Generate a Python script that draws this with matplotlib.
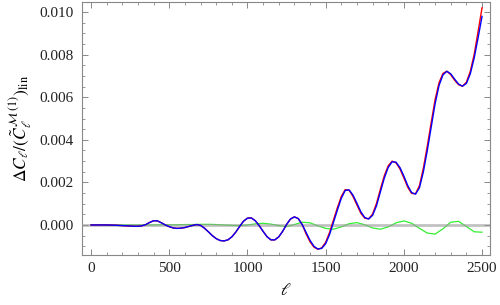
import numpy as np
import matplotlib.pyplot as plt
from matplotlib.ticker import MultipleLocator

# DATA (values in units of 1e-3)
ell = list(range(0, 2501, 25))
blue = [0, 0, 0, 0, 0, -0.005, -0.01, -0.02, -0.03, -0.04, -0.05, -0.06, -0.06, -0.04,
        0.02, 0.12, 0.20, 0.19, 0.10, 0.0, -0.08, -0.14, -0.16, -0.15, -0.12, -0.07,
        -0.02, 0.02, -0.02, -0.15, -0.32, -0.50, -0.64, -0.73, -0.75, -0.70, -0.56,
        -0.34, -0.07, 0.18, 0.32, 0.33, 0.20, -0.03, -0.30, -0.55, -0.70, -0.70, -0.56,
        -0.30, 0.02, 0.28, 0.38, 0.30, 0.02, -0.35, -0.72, -1.00, -1.13, -1.10, -0.88,
        -0.45, 0.12, 0.70, 1.25, 1.62, 1.65, 1.40, 1.02, 0.62, 0.35, 0.28, 0.45, 0.90,
        1.55, 2.20, 2.70, 2.97, 2.95, 2.70, 2.30, 1.85, 1.52, 1.45, 1.75, 2.50, 3.50,
        4.60, 5.70, 6.55, 7.05, 7.22, 7.10, 6.85, 6.62, 6.52, 6.65, 7.10, 7.85, 8.80, 9.80]
red_hi = [-0.42, -0.79, -1.04, -1.14, -1.075, -0.815, -0.35, 0.235, 0.81, 1.34, 1.66,
          1.63, 1.34, 0.94, 0.55, 0.32, 0.29, 0.51, 1.01, 1.68, 2.315, 2.78, 3.0, 2.92,
          2.635, 2.215, 1.77, 1.48, 1.47, 1.855, 2.675, 3.71, 4.82, 5.895, 6.685, 7.12,
          7.225, 7.06, 6.80, 6.59, 6.52, 6.71, 7.22, 8.02, 9.1, 10.2]
red = blue[:len(blue) - len(red_hi)] + red_hi

ell_g = list(range(0, 2501, 50))
green = [0, 0, 0, 0, 0, 0, 0, 0, 0, 0.01, 0.01, 0.01, 0.02, 0.02, 0.03, 0.03, 0.02, 0.0,
         -0.02, -0.03, 0.0, 0.05, 0.08, 0.04, -0.03, -0.08, 0.02, 0.13, 0.10, -0.04,
         -0.16, -0.20, -0.09, 0.06, 0.11, 0.01, -0.14, -0.20, -0.09, 0.10, 0.19, 0.08,
         -0.16, -0.38, -0.43, -0.18, 0.13, 0.17, -0.07, -0.32, -0.34]

plt.rcParams['mathtext.fontset'] = 'stix'
plt.rcParams['font.family'] = ['Liberation Serif', 'DejaVu Serif']

fig = plt.figure(figsize=(5, 3.05), dpi=100)
ax = fig.add_axes([0.164, 0.164, 0.816, 0.829])

ax.plot(ell_g, np.array(green) * 1e-3, color='#33ee33', lw=0.9, zorder=2)
ax.axhline(0, color='#999999', lw=2, alpha=0.6, zorder=3)
ax.plot(ell, np.array(red) * 1e-3, color='#ff0000', lw=1.0, zorder=4)
ax.plot(ell, np.array(blue) * 1e-3, color='#0000ff', lw=1.0, zorder=5)

ax.set_xlim(-58, 2551)
ax.set_ylim(-0.00141, 0.01047)
ax.xaxis.set_major_locator(MultipleLocator(500))
ax.xaxis.set_minor_locator(MultipleLocator(100))
ax.yaxis.set_major_locator(MultipleLocator(0.002))
ax.yaxis.set_minor_locator(MultipleLocator(0.0005))
ax.yaxis.set_major_formatter(plt.FuncFormatter(lambda v, p: f"{v:.3f}"))

for s in ax.spines.values():
    s.set_color('#888888')
    s.set_linewidth(0.8)
ax.tick_params(which='both', direction='in', top=True, right=True, color='#888888',
               labelsize=11, labelcolor='#222222')
ax.tick_params(axis='y', pad=6)
ax.tick_params(axis='x', pad=5)
ax.tick_params(which='major', length=4, width=0.7)
ax.tick_params(which='minor', length=2.3, width=0.6)

ax.set_xlabel(r'$\ell$', fontsize=12, labelpad=6)
ax.set_ylabel(r'$\Delta C_\ell/(\tilde{C}_\ell^{\,\mathcal{M}\,(1)})_{\rm lin}$', fontsize=12.5, labelpad=4)

fig.savefig('out.png', dpi=100)
